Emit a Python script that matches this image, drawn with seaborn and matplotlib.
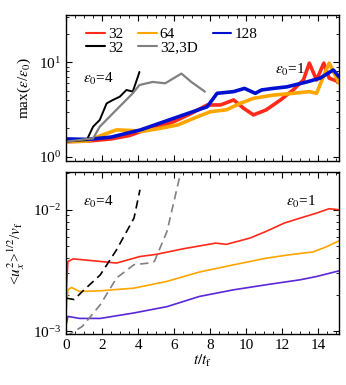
import numpy as np
import pandas as pd
import matplotlib
matplotlib.use("Agg")
import matplotlib.pyplot as plt
import seaborn as sns
from matplotlib.lines import Line2D
from matplotlib.ticker import LogLocator, MultipleLocator, NullFormatter

# --- data ---
# top panel: max(eps/eps0) vs t/tf
t_r32 = [0, 1.2, 2.5, 3.5, 4.13, 5.0, 5.98, 6.9, 7.83, 8.57, 9.3, 9.85, 10.4, 11.1, 11.9,
         12.6, 13.17, 13.5, 13.9, 14.3, 14.6, 15.15]
v_r32 = [1.45, 1.47, 1.55, 1.68, 1.85, 2.05, 2.36, 2.85, 3.54, 3.54, 4.0, 3.27, 2.78, 3.14, 4.0,
         5.1, 6.5, 9.8, 6.5, 9.8, 6.8, 6.2]
t_o64 = [0, 1.2, 2.0, 2.8, 3.7, 4.13, 5.2, 6.2, 7.3, 8.0, 8.9, 9.67, 10.4, 11.5, 12.6, 13.5,
         13.9, 14.2, 14.6, 14.9, 15.15]
v_o64 = [1.45, 1.47, 1.7, 1.93, 1.9, 1.85, 2.0, 2.18, 2.66, 3.0, 3.15, 3.68, 4.16, 4.5, 4.7, 4.9,
         4.7, 6.5, 9.8, 7.5, 6.0]
t_b128 = [0, 1.2, 2.5, 4.13, 5.98, 7.83, 8.38, 9.3, 9.9, 10.5, 10.85, 11.5, 12.25, 13.36,
          14.1, 14.83, 15.15]
v_b128 = [1.55, 1.53, 1.62, 1.93, 2.56, 3.39, 4.7, 4.9, 5.3, 4.7, 5.1, 5.3, 5.5, 6.2,
          6.8, 8.3, 7.0]
t_k32 = [0, 1.15, 1.5, 1.87, 2.25, 2.6, 2.98, 3.35, 3.7, 3.98, 4.07]
v_k32 = [1.45, 1.51, 2.09, 2.46, 3.68, 4.0, 4.33, 5.1, 4.9, 7.0, 7.9]
t_g3d = [0, 1.5, 1.87, 2.6, 3.7, 4.07, 4.8, 5.5, 6.4, 6.95, 7.7]
v_g3d = [1.45, 1.57, 2.09, 2.89, 4.7, 5.75, 6.2, 6.0, 7.6, 6.2, 4.9]

# bottom panel: <ux^2>^1/2 / vf vs t/tf
tu_r32 = [0, 0.1, 0.4, 1.9, 2.8, 4.1, 5.0, 6.5, 8.3, 8.9, 10.2, 11.1, 12.1, 13.0, 13.9, 14.6, 15.15]
u_r32 = [2.0e-3, 3.76e-3, 3.95e-3, 3.76e-3, 3.65e-3, 4.13e-3, 4.3e-3, 4.78e-3, 5.32e-3, 5.2e-3,
         5.85e-3, 6.64e-3, 7.77e-3, 8.55e-3, 9.39e-3, 1.02e-2, 1.0e-2]
tu_o64 = [0, 0.1, 0.3, 0.75, 1.9, 3.77, 5.6, 7.4, 9.3, 11.1, 12.4, 13.7, 14.5, 15.15]
u_o64 = [1.46e-3, 2.2e-3, 2.3e-3, 2.13e-3, 2.16e-3, 2.27e-3, 2.58e-3, 3.08e-3, 3.53e-3,
         4.0e-3, 4.27e-3, 4.5e-3, 5.0e-3, 5.56e-3]
tu_b128 = [0, 0.1, 0.75, 1.9, 3.77, 5.6, 7.4, 9.3, 11.1, 13.0, 13.9, 15.15]
u_b128 = [1.13e-3, 1.33e-3, 1.28e-3, 1.28e-3, 1.42e-3, 1.6e-3, 1.94e-3, 2.2e-3, 2.42e-3,
          2.66e-3, 2.83e-3, 3.15e-3]
tu_k32 = [0, 0.45, 0.9, 1.9, 2.8, 3.77, 4.1]
u_k32 = [1.88e-3, 1.83e-3, 2.13e-3, 2.92e-3, 4.69e-3, 8.55e-3, 1.46e-2]
tu_g3d = [0, 0.9, 1.9, 2.8, 3.77, 4.6, 4.9, 5.6, 6.2, 6.5]
u_g3d = [9.1e-4, 1.1e-3, 1.66e-3, 2.75e-3, 3.54e-3, 3.65e-3, 3.76e-3, 6.64e-3, 1.6e-2, 2.5e-2]

red, orange, blue, purple = "#ff2a1a", "#ffa500", "#0010d0", "#5a28d8"

sns.set_style("ticks")
plt.rcParams["font.family"] = ["Liberation Serif", "DejaVu Serif"]
plt.rcParams["mathtext.fontset"] = "stix"
plt.rcParams["font.size"] = 11
plt.rcParams["xtick.direction"] = "in"
plt.rcParams["ytick.direction"] = "in"
plt.rcParams["axes.edgecolor"] = "black"
plt.rcParams["xtick.color"] = "black"
plt.rcParams["ytick.color"] = "black"
plt.rcParams["text.color"] = "black"
plt.rcParams["axes.labelcolor"] = "black"

fig = plt.figure(figsize=(3.46, 3.85), dpi=100)
ax1 = fig.add_axes([0.191, 0.582, 0.789, 0.379])
ax2 = fig.add_axes([0.191, 0.133, 0.789, 0.420])

# --- top panel ---
sns.lineplot(x=t_r32, y=v_r32, color=red, lw=2.6, ax=ax1)
sns.lineplot(x=t_o64, y=v_o64, color=orange, lw=2.6, ax=ax1)
sns.lineplot(x=t_b128, y=v_b128, color=blue, lw=2.6, ax=ax1)
sns.lineplot(x=t_k32, y=v_k32, color="black", lw=1.4, ax=ax1)
sns.lineplot(x=t_g3d, y=v_g3d, color="gray", lw=1.6, ax=ax1)
ax1.set_yscale("log")
ax1.set_ylim(0.907, 31.6)
ax1.set_ylabel(r"max($\epsilon$/$\epsilon_0$)")
ax1.text(0.95, 6.6, r"$\epsilon_0$=4", va="center")
ax1.text(11.6, 8.3, r"$\epsilon_0$=1", va="center")

handles = [Line2D([], [], color=red), Line2D([], [], color="black"),
           Line2D([], [], color=orange), Line2D([], [], color="gray"),
           Line2D([], [], color=blue)]
labels = ["32", "32", "64", "32,3D", "128"]
ax1.legend(handles, labels, ncol=3, loc="upper left", bbox_to_anchor=(0.03, 1.0),
           frameon=False, handlelength=1.2, handletextpad=0.2, columnspacing=1.0,
           labelspacing=0.0, borderpad=0.3)

# --- bottom panel ---
sns.lineplot(x=tu_r32, y=u_r32, color=red, lw=1.2, ax=ax2)
sns.lineplot(x=tu_o64, y=u_o64, color=orange, lw=1.2, ax=ax2)
sns.lineplot(x=tu_b128, y=u_b128, color=purple, lw=1.2, ax=ax2)
sns.lineplot(x=tu_k32, y=u_k32, color="black", lw=1.2, ax=ax2)
sns.lineplot(x=tu_g3d, y=u_g3d, color="gray", lw=1.2, ax=ax2)
for ln in ax2.lines[3:]:
    ln.set_dashes([5, 3])
ax2.set_yscale("log")
ax2.set_ylim(9.57e-4, 2.04e-2)
ax2.set_ylabel(r"<$u_x^2$>$^{1/2}$/$v_{\rm f}$")
ax2.set_xlabel(r"$t/t_{\rm f}$", labelpad=1)
ax2.text(0.95, 1.17e-2, r"$\epsilon_0$=4", va="center")
ax2.text(12.2, 1.17e-2, r"$\epsilon_0$=1", va="center")

for ax in (ax1, ax2):
    ax.set_xlim(0, 15.15)
    ax.xaxis.set_major_locator(MultipleLocator(2))
    ax.xaxis.set_minor_locator(MultipleLocator(0.5))
    ax.yaxis.set_major_locator(LogLocator(base=10, numticks=10))
    ax.yaxis.set_minor_locator(LogLocator(base=10, subs=np.arange(2, 10), numticks=10))
    ax.yaxis.set_minor_formatter(NullFormatter())
    ax.tick_params(which="both", top=True, right=True, direction="in")
    ax.tick_params(which="major", length=4, width=0.8)
    ax.tick_params(which="minor", length=2, width=0.6)
    for s in ax.spines.values():
        s.set_linewidth(1.0)
ax1.tick_params(labelbottom=False)

fig.savefig("out.png", dpi=100)
